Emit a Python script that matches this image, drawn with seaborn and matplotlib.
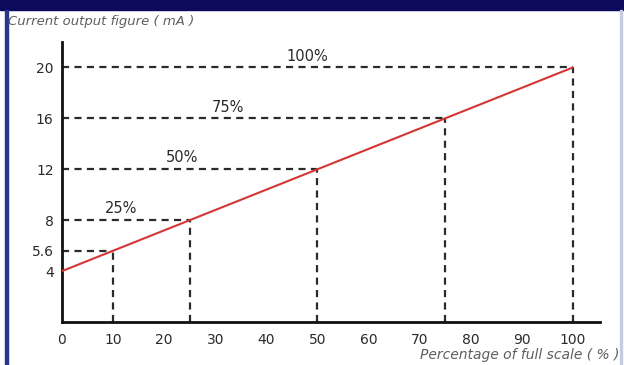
import matplotlib
matplotlib.use("Agg")
import matplotlib.pyplot as plt
import seaborn as sns
import pandas as pd

# 输出电流与满量程百分比的关系
pct = [0, 100]
current_ma = [4, 20]

# 参考点 (虚线)
mark_pct = [10, 25, 50, 75, 100]
mark_ma = [5.6, 8, 12, 16, 20]

# 百分比标注
note_text = ["25%", "50%", "75%", "100%"]
note_x = [11.5, 23.5, 32.5, 48]
note_y = [8, 12, 16, 20]

x_ticks = [0, 10, 20, 30, 40, 50, 60, 70, 80, 90, 100]
y_ticks = [4, 5.6, 8, 12, 16, 20]
y_tick_labels = ["4", "5.6", "8", "12", "16", "20"]

sns.set_style("white")
plt.rcParams['font.family'] = ['DejaVu Sans']

fig = plt.figure(figsize=(6.24, 3.65), dpi=100)
fig.patch.set_facecolor("white")

# 上方深蓝色标题栏和左右边框
fig.patches.append(plt.Rectangle((0, 1 - 10 / 365), 1, 10 / 365, transform=fig.transFigure,
                                 color="#0b0a5c", zorder=0))
fig.patches.append(plt.Rectangle((5 / 624, 0), 2.5 / 624, 1 - 10 / 365, transform=fig.transFigure,
                                 color="#2b3590", zorder=0))
fig.patches.append(plt.Rectangle((620 / 624, 0), 2 / 624, 1 - 10 / 365, transform=fig.transFigure,
                                 color="#c8cce0", zorder=0))

ax = fig.add_axes([62 / 624, 43 / 365, 538 / 624, 280 / 365])
ax.set_facecolor("none")

# 虚线
for xv, yv in zip(mark_pct, mark_ma):
    ax.plot([0, xv], [yv, yv], color="#2a2a2a", lw=1.6, ls=(0, (3.2, 2.4)), zorder=2)
    ax.plot([xv, xv], [0, yv], color="#2a2a2a", lw=1.6, ls=(0, (3.2, 2.4)), zorder=2)

df = pd.DataFrame({"pct": pct, "mA": current_ma})
sns.lineplot(data=df, x="pct", y="mA", color="#d43535", lw=1.5, ax=ax, zorder=3)

for t, xv, yv in zip(note_text, note_x, note_y):
    ax.text(xv, yv + 0.3, t, ha="center", va="bottom", fontsize=10.5, color="#2a2a2a")

ax.set_xlim(0, 105.3)
ax.set_ylim(0, 22)
ax.set_xticks(x_ticks)
ax.set_yticks(y_ticks)
ax.set_yticklabels(y_tick_labels)
ax.tick_params(axis="both", direction="in", length=6, width=2, colors="#111111",
               labelsize=10, labelcolor="#2a2a2a")
ax.tick_params(axis="x", pad=8)
ax.tick_params(axis="y", pad=6)
for s in ["top", "right"]:
    ax.spines[s].set_visible(False)
for s in ["left", "bottom"]:
    ax.spines[s].set_linewidth(2)
    ax.spines[s].set_color("#111111")
ax.set_xlabel("")
ax.set_ylabel("")

fig.text(8 / 624, 1 - 22 / 365, "Current output figure ( mA )", fontsize=9.5, style="italic",
         color="#5e5e5e", ha="left", va="center")
fig.text(619 / 624, 1 - 355 / 365, "Percentage of full scale ( % )", fontsize=10, style="italic",
         color="#5e5e5e", ha="right", va="center")

fig.savefig("out.png", dpi=100)
